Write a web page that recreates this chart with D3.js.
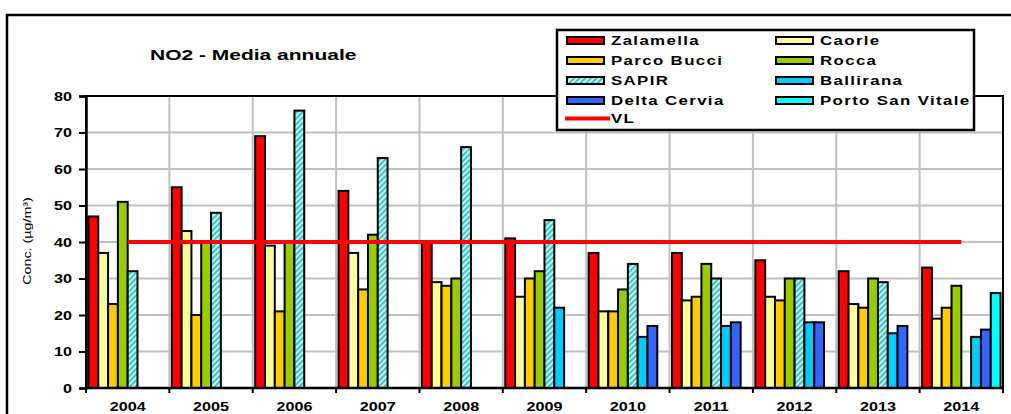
<!DOCTYPE html>
<html>
<head>
<meta charset="utf-8">
<script src="https://cdn.jsdelivr.net/npm/d3@7"></script>
<style>
  html, body { margin: 0; padding: 0; background: #fff; }
  svg { display: block; font-family: "Liberation Sans", Arial, sans-serif; }
</style>
</head>
<body>
<div id="chart"></div>
<script>
'use strict';

// data (NO2 annual means, µg/m3)
const years = ['2004', '2005', '2006', '2007', '2008', '2009', '2010', '2011', '2012', '2013', '2014'];
const zalamella = [47, 55, 69, 54, 40, 41, 37, 37, 35, 32, 33];
const caorle = [37, 43, 39, 37, 29, 25, 21, 24, 25, 23, 19];
const parcoBucci = [23, 20, 21, 27, 28, 30, 21, 25, 24, 22, 22];
const rocca = [51, 40, 40, 42, 30, 32, 27, 34, 30, 30, 28];
const sapir = [32, 48, 76, 63, 66, 46, 34, 30, 30, 29, null];
const ballirana = [null, null, null, null, null, 22, 14, 17, 18, 15, 14];
const deltaCervia = [null, null, null, null, null, null, 17, 18, 18, 17, 16];
const portoSanVitale = [null, null, null, null, null, null, null, null, null, null, 26];
const vl = [40, 40, 40, 40, 40, 40, 40, 40, 40, 40, 40];
const yTicks = [0, 10, 20, 30, 40, 50, 60, 70, 80];

const series = [
    { name: 'Zalamella', values: zalamella, color: '#ff0000' },
    { name: 'Caorle', values: caorle, color: '#ffff99' },
    { name: 'Parco Bucci', values: parcoBucci, color: '#ffcc00' },
    { name: 'Rocca', values: rocca, color: '#99cc00' },
    { name: 'SAPIR', values: sapir, color: 'url(#hatch)' },
    { name: 'Ballirana', values: ballirana, color: '#00ccff' },
    { name: 'Delta Cervia', values: deltaCervia, color: '#3366ff' },
    { name: 'Porto San Vitale', values: portoSanVitale, color: '#00ffff' }
];

var W = 1011, H = 414;
var plot = { left: 86, right: 1003, top: 96, bottom: 388 };
var sx = 1.35; // the source picture is stretched horizontally

var svg = d3.select('#chart').append('svg')
    .attr('width', W)
    .attr('height', H);

var pat = svg.append('defs').append('pattern')
    .attr('id', 'hatch')
    .attr('patternUnits', 'userSpaceOnUse')
    .attr('width', 4)
    .attr('height', 4)
    .attr('patternTransform', 'rotate(-45)');
pat.append('rect').attr('width', 4).attr('height', 4).attr('fill', '#ffffff');
pat.append('rect').attr('width', 4).attr('height', 2.5).attr('fill', '#33cccc');

// outer chart frame (right and bottom run off the picture)
svg.append('rect')
    .attr('x', 7).attr('y', 15)
    .attr('width', 1040).attr('height', 440)
    .attr('fill', 'none')
    .attr('stroke', '#000')
    .attr('stroke-width', 2.5);

var x = d3.scaleBand()
    .domain(years)
    .range([plot.left, plot.right]);

var xs = d3.scaleBand()
    .domain(series.map(function (d) { return d.name; }))
    .range([0, x.bandwidth()])
    .paddingOuter(0.25);

var y = d3.scaleLinear()
    .domain([0, 80])
    .range([plot.bottom, plot.top]);

// grid
svg.append('g')
    .selectAll('line')
    .data(yTicks.filter(function (d) { return d > 0 && d < 80; }))
    .join('line')
    .attr('x1', plot.left).attr('x2', plot.right)
    .attr('y1', function (d) { return y(d); })
    .attr('y2', function (d) { return y(d); })
    .attr('stroke', '#c0c0c0')
    .attr('stroke-width', 2);

svg.append('g')
    .selectAll('line')
    .data(years.slice(1))
    .join('line')
    .attr('x1', function (d) { return x(d); })
    .attr('x2', function (d) { return x(d); })
    .attr('y1', plot.top).attr('y2', plot.bottom)
    .attr('stroke', '#c0c0c0')
    .attr('stroke-width', 2);

// plot area border
svg.append('rect')
    .attr('x', plot.left).attr('y', plot.top)
    .attr('width', plot.right - plot.left)
    .attr('height', plot.bottom - plot.top)
    .attr('fill', 'none')
    .attr('stroke', '#000')
    .attr('stroke-width', 2);

// bars
series.forEach(function (s) {
    svg.append('g')
        .selectAll('rect')
        .data(s.values.map(function (v, i) { return { year: years[i], value: v }; })
            .filter(function (d) { return d.value != null; }))
        .join('rect')
        .attr('x', function (d) { return x(d.year) + xs(s.name); })
        .attr('y', function (d) { return y(d.value); })
        .attr('width', xs.bandwidth())
        .attr('height', function (d) { return y(0) - y(d.value); })
        .attr('fill', s.color)
        .attr('stroke', '#000')
        .attr('stroke-width', 2);
});

// VL line
var line = d3.line()
    .x(function (d, i) { return x(years[i]) + x.bandwidth() / 2; })
    .y(function (d) { return y(d); });

svg.append('path')
    .datum(vl)
    .attr('d', line)
    .attr('fill', 'none')
    .attr('stroke', '#ff0000')
    .attr('stroke-width', 4);

// y axis
var yAxis = d3.axisLeft(y)
    .tickValues(yTicks)
    .tickSize(7)
    .tickPadding(0);

var ga = svg.append('g')
    .attr('transform', 'translate(' + plot.left + ',0)')
    .call(yAxis);
ga.select('.domain').attr('stroke-width', 2.5);
ga.selectAll('.tick line').attr('stroke-width', 2);
ga.selectAll('.tick text')
    .attr('x', -14 / sx)
    .attr('dy', '0.36em')
    .attr('transform', 'scale(' + sx + ',1)')
    .style('font-size', '12px')
    .style('font-weight', 'bold')
    .style('font-family', '"Liberation Sans", Arial, sans-serif')
    .attr('fill', '#000');

// x axis: ticks on category boundaries, labels centred
svg.append('line')
    .attr('x1', plot.left).attr('x2', plot.right)
    .attr('y1', plot.bottom).attr('y2', plot.bottom)
    .attr('stroke', '#000').attr('stroke-width', 2.5);

svg.append('g')
    .selectAll('line')
    .data(years.concat(['end']))
    .join('line')
    .attr('x1', function (d) { return d === 'end' ? plot.right : x(d); })
    .attr('x2', function (d) { return d === 'end' ? plot.right : x(d); })
    .attr('y1', plot.bottom).attr('y2', plot.bottom + 5)
    .attr('stroke', '#000').attr('stroke-width', 2);

svg.append('g')
    .selectAll('text')
    .data(years)
    .join('text')
    .attr('transform', function (d) {
        return 'translate(' + (x(d) + x.bandwidth() / 2) + ',411) scale(' + sx + ',1)';
    })
    .attr('text-anchor', 'middle')
    .style('font-size', '12px')
    .style('font-weight', 'bold')
    .text(function (d) { return d; });

// y title
svg.append('text')
    .attr('transform', 'translate(31,241) rotate(-90) scale(1.3,1)')
    .attr('text-anchor', 'middle')
    .style('font-size', '11px')
    .text('Conc. (µg/m³)');

// title
svg.append('text')
    .attr('transform', 'translate(150,60) scale(1.4,1)')
    .style('font-size', '15px')
    .style('font-weight', 'bold')
    .text('NO2 - Media annuale');

// legend
var lg = svg.append('g');
lg.append('rect')
    .attr('x', 557).attr('y', 30)
    .attr('width', 417).attr('height', 100)
    .attr('fill', '#fff')
    .attr('stroke', '#000')
    .attr('stroke-width', 2.5);

var rowY = [40.5, 60.5, 80.5, 100.5, 118.5];
var legendItems = series.map(function (s, i) {
    return { name: s.name, color: s.color, col: i % 2, row: Math.floor(i / 2) };
});

legendItems.forEach(function (d) {
    var sxPos = d.col === 0 ? 567 : 776;
    lg.append('rect')
        .attr('x', sxPos).attr('y', rowY[d.row] - 3.5)
        .attr('width', 37).attr('height', 7)
        .attr('fill', d.color)
        .attr('stroke', '#000')
        .attr('stroke-width', 2);
    lg.append('text')
        .attr('transform', 'translate(' + (sxPos + 44) + ',' + (rowY[d.row] + 4.5) + ') scale(' + sx + ',1)')
        .style('font-size', '12.5px')
        .style('font-weight', 'bold')
        .style('letter-spacing', '1px')
        .text(d.name);
});

lg.append('line')
    .attr('x1', 565).attr('x2', 610)
    .attr('y1', rowY[4]).attr('y2', rowY[4])
    .attr('stroke', '#ff0000')
    .attr('stroke-width', 4);
lg.append('text')
    .attr('transform', 'translate(611,' + (rowY[4] + 4.5) + ') scale(' + sx + ',1)')
    .style('font-size', '12.5px')
    .style('font-weight', 'bold')
    .style('letter-spacing', '1px')
    .text('VL');
</script>
</body>
</html>
